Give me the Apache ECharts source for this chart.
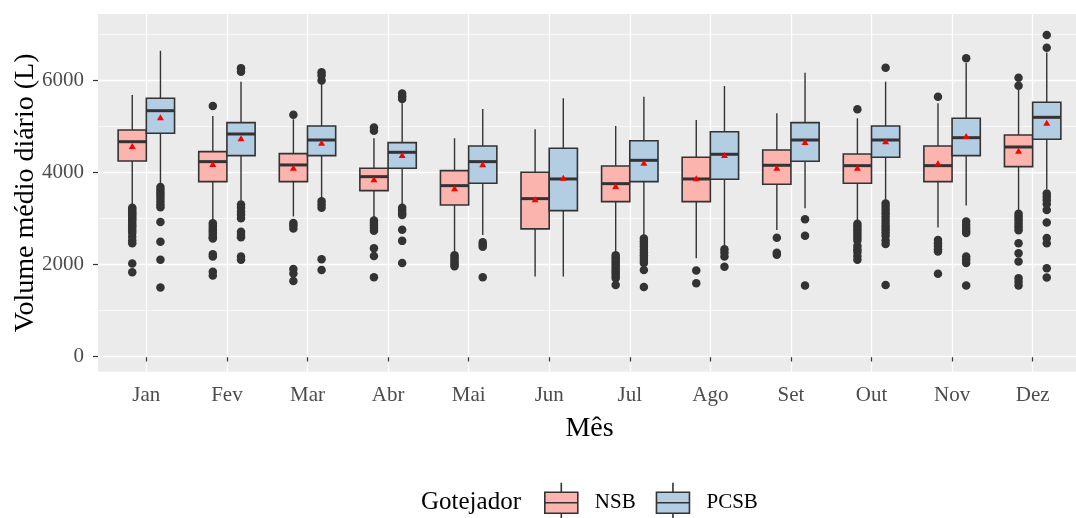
<!DOCTYPE html>
<html>
<head>
<meta charset="utf-8">
<title>Volume médio diário por mês</title>
<script src="https://cdn.jsdelivr.net/npm/echarts@6/dist/echarts.min.js"></script>
<style>
  html, body { margin: 0; padding: 0; background: #ffffff; }
  #chart { width: 1076px; height: 518px; }
</style>
</head>
<body>
<div id="chart"></div>
<script>
// Months on the x axis
const months = ['Jan', 'Fev', 'Mar', 'Abr', 'Mai', 'Jun', 'Jul', 'Ago', 'Set', 'Out', 'Nov', 'Dez'];
const yTicks = [0, 2000, 4000, 6000];
const yMinorTicks = [1000, 3000, 5000, 7000];

// Box summaries per month: [lower whisker, Q1, median, Q3, upper whisker]
const nsbBox = [
  [3270, 4245, 4663, 4917, 5676],
  [2950, 3796, 4230, 4447, 5221],
  [3040, 3796, 4158, 4403, 5150],
  [3000, 3600, 3904, 4086, 4737],
  [2270, 3290, 3709, 4035, 4737],
  [1735, 2770, 3427, 4000, 4932],
  [2242, 3362, 3752, 4136, 5004],
  [2134, 3362, 3854, 4325, 5134],
  [2748, 3739, 4151, 4483, 5279],
  [2928, 3761, 4143, 4397, 5171],
  [2798, 3796, 4143, 4570, 5500],
  [3182, 4121, 4548, 4809, 5785]
];
const pcsbBox = [
  [3720, 4846, 5336, 5605, 6637],
  [3380, 4360, 4830, 5076, 5965],
  [3400, 4360, 4700, 5004, 5930],
  [3290, 4086, 4433, 4642, 5500],
  [2640, 3761, 4230, 4570, 5373],
  [1735, 3167, 3854, 4520, 5605],
  [2603, 3796, 4259, 4685, 5640],
  [2386, 3848, 4390, 4880, 5872],
  [3219, 4238, 4700, 5076, 6160],
  [3362, 4325, 4700, 5004, 5965],
  [3276, 4360, 4750, 5171, 6370],
  [3637, 4715, 5192, 5518, 6600]
];

// Monthly means
const nsbMean = [4570, 4180, 4100, 3848, 3652, 3413, 3702, 3870, 4100, 4100, 4194, 4468];
const pcsbMean = [5193, 4737, 4642, 4375, 4173, 3883, 4208, 4375, 4657, 4672, 4787, 5076];

// Outlying days per month
const nsbOutliers = [
  [3230, 3190, 3150, 3110, 3070, 3030, 2990, 2950, 2900, 2850, 2800, 2740, 2680, 2600, 2520, 2460, 2020, 1830],
  [5440, 2890, 2840, 2790, 2740, 2690, 2640, 2590, 2560, 2220, 2170, 1840, 1760],
  [5250, 2900, 2850, 2780, 1900, 1800, 1640],
  [4970, 4900, 2950, 2900, 2850, 2790, 2730, 2350, 2180, 1720],
  [2200, 2150, 2100, 2050, 2000, 1960],
  [],
  [2200, 2150, 2100, 2050, 2000, 1950, 1900, 1850, 1800, 1750, 1700, 1550],
  [1865, 1592],
  [2580, 2250, 2210],
  [5366, 2880, 2820, 2760, 2700, 2640, 2580, 2520, 2400, 2330, 2270, 2180, 2100],
  [5640, 2530, 2460, 2400, 2330, 2280, 1794],
  [6050, 5880, 3100, 3040, 2980, 2920, 2860, 2800, 2740, 2460, 2240, 2060, 1700, 1620, 1540]
];
const pcsbOutliers = [
  [3680, 3620, 3560, 3500, 3440, 3370, 3300, 3240, 2920, 2490, 2100, 1500],
  [6260, 6180, 3300, 3230, 3150, 3080, 3000, 2710, 2640, 2590, 2170, 2100],
  [6170, 6100, 5990, 3370, 3300, 3230, 2110, 1880],
  [5710, 5650, 5590, 3230, 3170, 3110, 3070, 2750, 2510, 2030],
  [2480, 2430, 2380, 1720],
  [],
  [2560, 2500, 2440, 2380, 2320, 2260, 2200, 2140, 2080, 2030, 1880, 1510],
  [2330, 2250, 2170, 1950],
  [2980, 2620, 1540],
  [6269, 3320, 3250, 3180, 3110, 3040, 2970, 2900, 2830, 2760, 2690, 2620, 2520, 2440, 1550],
  [6472, 2930, 2860, 2790, 2730, 2680, 2170, 2100, 2030, 1540],
  [6977, 6702, 3540, 3470, 3400, 3310, 3180, 2907, 2570, 2460, 1917, 1714]
];

const FONT = "'Liberation Serif', 'DejaVu Serif', serif";
const INK = '#333333';
const NSB_FILL = '#FBB4AE';
const PCSB_FILL = '#B3CDE3';
const BOX_W = 0.35;     // width of one box in month units
const DODGE = 0.175;    // half the dodge spacing

function boxData(rows) {
  return rows.map((r, i) => [i + 1].concat(r));
}
function pointData(lists, off) {
  const out = [];
  lists.forEach((vals, i) => vals.forEach(v => out.push([i + 1 + off, v])));
  return out;
}
function meanData(vals, off) {
  return vals.map((v, i) => [i + 1 + off, v]);
}

function boxRenderer(off, fill) {
  return function (params, api) {
    const x = api.value(0) + off;
    const half = api.size([BOX_W, 0])[0] / 2;
    const pLow = api.coord([x, api.value(1)]);
    const pQ1 = api.coord([x, api.value(2)]);
    const pMed = api.coord([x, api.value(3)]);
    const pQ3 = api.coord([x, api.value(4)]);
    const pHigh = api.coord([x, api.value(5)]);
    const cx = pMed[0];
    const lineStyle = { stroke: INK, lineWidth: 1.4 };
    return {
      type: 'group',
      children: [
        { type: 'line', shape: { x1: cx, y1: pHigh[1], x2: cx, y2: pQ3[1] }, style: lineStyle },
        { type: 'line', shape: { x1: cx, y1: pQ1[1], x2: cx, y2: pLow[1] }, style: lineStyle },
        { type: 'rect', shape: { x: cx - half, y: pQ3[1], width: half * 2, height: pQ1[1] - pQ3[1] },
          style: { fill: fill, stroke: INK, lineWidth: 1.6 } },
        { type: 'line', shape: { x1: cx - half, y1: pMed[1], x2: cx + half, y2: pMed[1] },
          style: { stroke: INK, lineWidth: 3 } }
      ]
    };
  };
}

const legendIcon = 'path://M16.5,0 L16.5,9.5 M0,9.5 L33,9.5 L33,30.5 L0,30.5 Z M0,20 L33,20 M16.5,30.5 L16.5,40';

const chart = echarts.init(document.getElementById('chart'), null, { renderer: 'canvas' });

chart.setOption({
  animation: false,
  backgroundColor: '#ffffff',
  textStyle: { fontFamily: FONT },
  title: {
    text: 'Gotejador',
    left: 421,
    top: 488,
    padding: 0,
    textStyle: { fontFamily: FONT, fontSize: 25, fontWeight: 'normal', color: '#000000', lineHeight: 28 }
  },
  legend: {
    left: 544,
    top: 482,
    padding: 0,
    itemWidth: 33,
    itemHeight: 40,
    itemGap: 20,
    selectedMode: false,
    icon: legendIcon,
    textStyle: { fontFamily: FONT, fontSize: 21, color: '#000000', padding: [0, 0, 0, 12] },
    data: [
      { name: 'NSB', itemStyle: { color: NSB_FILL, borderColor: INK, borderWidth: 1.6 } },
      { name: 'PCSB', itemStyle: { color: PCSB_FILL, borderColor: INK, borderWidth: 1.6 } }
    ]
  },
  grid: {
    left: 98,
    top: 14,
    width: 983,
    height: 357.7,
    outerBoundsMode: 'none',
    containLabel: false,
    show: true,
    backgroundColor: '#EBEBEB',
    borderWidth: 0
  },
  xAxis: {
    type: 'value',
    min: 0.4,
    max: 12.6,
    name: 'Mês',
    nameLocation: 'middle',
    nameGap: 43,
    nameMoveOverlap: false,
    nameTextStyle: { fontFamily: FONT, fontSize: 28, color: '#000000' },
    axisLine: { show: false },
    axisTick: { show: true, length: 5, customValues: [1, 2, 3, 4, 5, 6, 7, 8, 9, 10, 11, 12],
      lineStyle: { color: INK, width: 1.2 } },
    axisLabel: {
      customValues: [1, 2, 3, 4, 5, 6, 7, 8, 9, 10, 11, 12],
      formatter: v => months[Math.round(v) - 1],
      margin: 13,
      fontFamily: FONT, fontSize: 21, color: '#4D4D4D'
    },
    splitLine: { show: true, lineStyle: { color: '#ffffff', width: 1.3 } }
  },
  yAxis: [
    {
      type: 'value',
      min: -330,
      max: 7435,
      name: 'Volume médio diário (L)',
      nameLocation: 'middle',
      nameGap: 58,
      nameMoveOverlap: false,
      nameTextStyle: { fontFamily: FONT, fontSize: 28, color: '#000000' },
      axisLine: { show: false },
      axisTick: { show: true, length: 5, customValues: yTicks, lineStyle: { color: INK, width: 1.2 } },
      axisLabel: { customValues: yTicks, formatter: v => String(v), margin: 14,
        fontFamily: FONT, fontSize: 21, color: '#4D4D4D' },
      splitLine: { show: true, lineStyle: { color: '#ffffff', width: 1.3 } },
      z: 1
    },
    {
      type: 'value',
      min: -330,
      max: 7435,
      position: 'left',
      axisLine: { show: false },
      axisTick: { show: false, customValues: yMinorTicks },
      axisLabel: { show: false, customValues: yMinorTicks },
      splitLine: { show: true, lineStyle: { color: '#ffffff', width: 0.6 } },
      z: 0
    }
  ],
  series: [
    {
      name: 'NSB',
      type: 'custom',
      renderItem: boxRenderer(-DODGE, NSB_FILL),
      itemStyle: { color: NSB_FILL },
      encode: { x: 0, y: [1, 2, 3, 4, 5] },
      data: boxData(nsbBox),
      z: 2
    },
    {
      name: 'PCSB',
      type: 'custom',
      renderItem: boxRenderer(DODGE, PCSB_FILL),
      itemStyle: { color: PCSB_FILL },
      encode: { x: 0, y: [1, 2, 3, 4, 5] },
      data: boxData(pcsbBox),
      z: 2
    },
    {
      name: 'NSB outliers',
      type: 'scatter',
      symbol: 'circle',
      symbolSize: 8.5,
      itemStyle: { color: INK, opacity: 1 },
      data: pointData(nsbOutliers, -DODGE),
      z: 3
    },
    {
      name: 'PCSB outliers',
      type: 'scatter',
      symbol: 'circle',
      symbolSize: 8.5,
      itemStyle: { color: INK, opacity: 1 },
      data: pointData(pcsbOutliers, DODGE),
      z: 3
    },
    {
      name: 'NSB mean',
      type: 'scatter',
      symbol: 'triangle',
      symbolSize: [7, 6],
      itemStyle: { color: '#FF0000', opacity: 1 },
      data: meanData(nsbMean, -DODGE),
      z: 4
    },
    {
      name: 'PCSB mean',
      type: 'scatter',
      symbol: 'triangle',
      symbolSize: [7, 6],
      itemStyle: { color: '#FF0000', opacity: 1 },
      data: meanData(pcsbMean, DODGE),
      z: 4
    }
  ]
});
</script>
</body>
</html>
